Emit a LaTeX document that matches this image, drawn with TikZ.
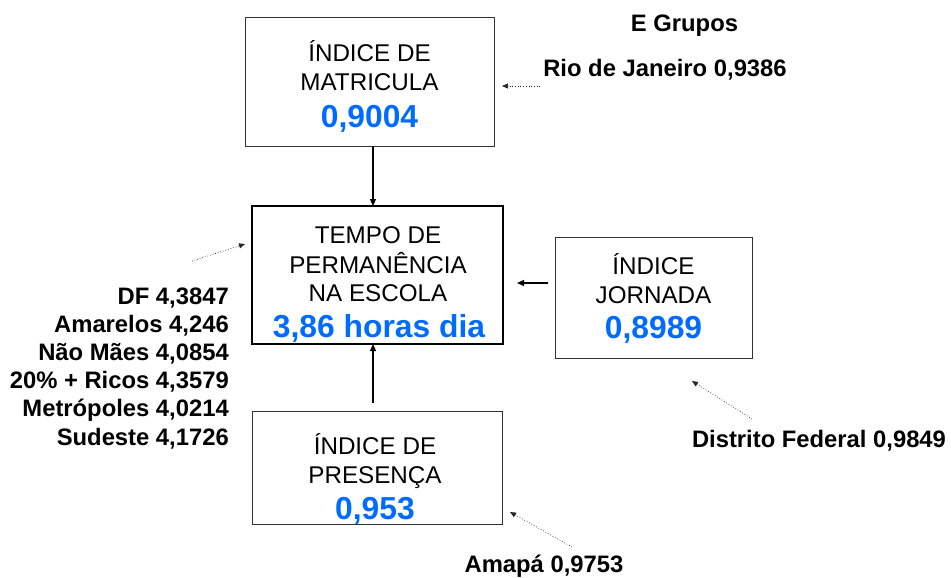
\documentclass[tikz,border=0pt]{standalone}
\usepackage{fontspec}
\setmainfont{Liberation Sans}
\usetikzlibrary{arrows.meta}
\definecolor{numblue}{RGB}{0,108,255}
\begin{document}
\begin{tikzpicture}[x=1pt,y=-1pt,
  box/.style={draw=black!80,line width=1pt,inner sep=0pt,outer sep=0pt},
  mainbox/.style={draw=black,line width=2.5pt,inner sep=0pt,outer sep=0pt},
  boxtxt/.style={anchor=base,inner sep=0pt,font=\fontsize{24.2}{29}\selectfont},
  numtxt/.style={anchor=base,inner sep=0pt,text=numblue,font=\fontsize{31.8}{36}\selectfont\bfseries},
  lbl/.style={anchor=base,inner sep=0pt,font=\fontsize{23.8}{28}\selectfont\bfseries},
  lblr/.style={anchor=base east,inner sep=0pt,font=\fontsize{23.8}{28}\selectfont\bfseries},
  conn/.style={line width=1.2pt,-{Triangle[length=7pt,width=6pt]}},
  dotarr/.style={line width=0.7pt,dotted,draw=black!85,-{Triangle[length=6pt,width=5pt]}}
]
\useasboundingbox (0,0) rectangle (951,578);
% boxes
\node[box,minimum width=249pt,minimum height=128pt] (mat) at (369.5,82) {};
\node[mainbox,minimum width=251pt,minimum height=138pt] (tempo) at (377.5,275) {};
\node[box,minimum width=197pt,minimum height=121pt] (jor) at (653.5,297.5) {};
\node[box,minimum width=250pt,minimum height=113pt] (pres) at (377,467.5) {};
% box texts
\node[boxtxt] (mat1) at (369.5,62) {ÍNDICE DE};
\node[boxtxt] (mat2) at (369.5,91) {MATRICULA};
\node[numtxt] (mat3) at (369.5,128) {0,9004};
\node[boxtxt] (tem1) at (378,243) {TEMPO DE};
\node[boxtxt] (tem2) at (378,273) {PERMANÊNCIA};
\node[boxtxt] (tem3) at (378,301) {NA ESCOLA};
\node[numtxt] (tem4) at (379,337) {3,86 horas dia};
\node[boxtxt] (jor1) at (653.5,274) {ÍNDICE};
\node[boxtxt] (jor2) at (653.5,303) {JORNADA};
\node[numtxt] (jor3) at (653.5,338) {0,8989};
\node[boxtxt] (pre1) at (375,454) {ÍNDICE DE};
\node[boxtxt] (pre2) at (375,483) {PRESENÇA};
\node[numtxt] (pre3) at (375,519) {0,953};
% labels
\node[lbl] (egr) at (684.5,32) {E Grupos};
\node[lbl] (rio) at (665,77) {Rio de Janeiro 0,9386};
\node[lbl] (df) at (819,447) {Distrito Federal 0,9849};
\node[lbl] (ama) at (544,572) {Amapá 0,9753};
\node[lblr] (l1) at (229,304) {DF 4,3847};
\node[lblr] (l2) at (229,332.2) {Amarelos 4,246};
\node[lblr] (l3) at (229,360.4) {Não Mães 4,0854};
\node[lblr] (l4) at (229,388.6) {20\% + Ricos 4,3579};
\node[lblr] (l5) at (229,416.8) {Metrópoles 4,0214};
\node[lblr] (l6) at (229,445) {Sudeste 4,1726};
% solid connectors
\coordinate (cx) at (373,0);
\draw[conn] (mat.south -| cx) -- (tempo.north -| cx);
\coordinate (ptail) at (373,403);
\draw[conn] (ptail) -- (tempo.south -| cx);
\coordinate (jtail) at (548,283);
\coordinate (jtip) at (517,283);
\draw[conn] (jtail) -- (jtip);
% dotted pointers
\coordinate (riotail) at (540,86);
\coordinate (riotip) at (502,86);
\draw[dotarr] (riotail) -- (riotip);
\coordinate (ltail) at (192,261);
\coordinate (ltip) at (245,244);
\draw[dotarr] (ltail) -- (ltip);
\coordinate (atail) at (572,547);
\coordinate (atip) at (510,512);
\draw[dotarr] (atail) -- (atip);
\coordinate (dtail) at (752,419);
\coordinate (dtip) at (692,381);
\draw[dotarr] (dtail) -- (dtip);
\end{tikzpicture}
\end{document}
